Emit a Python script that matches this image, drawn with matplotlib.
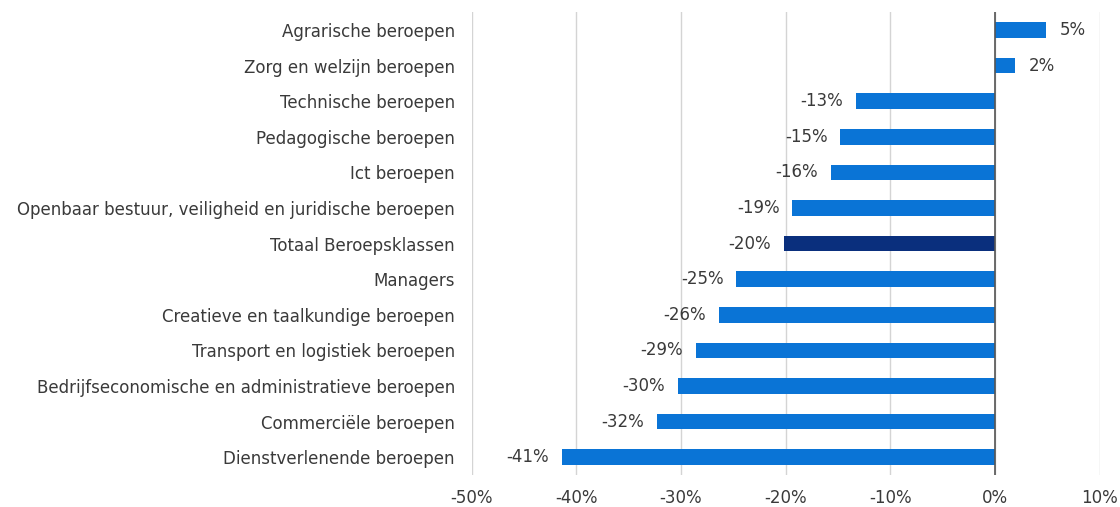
import matplotlib.pyplot as plt
import numpy as np

categories = [
    "Agrarische beroepen",
    "Zorg en welzijn beroepen",
    "Technische beroepen",
    "Pedagogische beroepen",
    "Ict beroepen",
    "Openbaar bestuur, veiligheid en juridische beroepen",
    "Totaal Beroepsklassen",
    "Managers",
    "Creatieve en taalkundige beroepen",
    "Transport en logistiek beroepen",
    "Bedrijfseconomische en administratieve beroepen",
    "Commerciële beroepen",
    "Dienstverlenende beroepen",
]
values = [4.9, 1.9, -13.3, -14.8, -15.7, -19.4, -20.2, -24.7, -26.4, -28.6, -30.3, -32.3, -41.4]
labels = ["5%", "2%", "-13%", "-15%", "-16%", "-19%", "-20%", "-25%", "-26%", "-29%", "-30%", "-32%", "-41%"]
highlight = "Totaal Beroepsklassen"
xticks = [-50, -40, -30, -20, -10, 0, 10]

text_col = "#3a3a3a"
fs = 12
fig = plt.figure(figsize=(11.2, 5.07), dpi=100)
ax = fig.add_axes([0.421, 0.063, 0.561, 0.913])

y = np.arange(len(categories))
colors = ["#0a2f7d" if c == highlight else "#0a74d6" for c in categories]
ax.barh(y, values, height=0.44, color=colors, zorder=3)

for yi, v, lab in zip(y, values, labels):
    if v >= 0:
        ax.text(v + 1.3, yi, lab, ha="left", va="center", fontsize=fs, color=text_col)
    else:
        ax.text(v - 1.2, yi, lab, ha="right", va="center", fontsize=fs, color=text_col)

ax.set_xlim(-50, 10)
ax.set_ylim(len(categories) - 0.5, -0.5)
ax.set_xticks(xticks)
ax.set_xticklabels([f"{t}%" for t in xticks], fontsize=fs, color=text_col)
ax.set_yticks(y)
ax.set_yticklabels(categories, fontsize=fs, color=text_col)
ax.tick_params(length=0, pad=12)
ax.tick_params(axis="x", pad=10)
ax.grid(axis="x", color="#d4d4d4", linewidth=1, zorder=0)
ax.axvline(0, color="#555555", linewidth=1.2, zorder=4)
for s in ax.spines.values():
    s.set_visible(False)

fig.savefig("out.png", dpi=100)
